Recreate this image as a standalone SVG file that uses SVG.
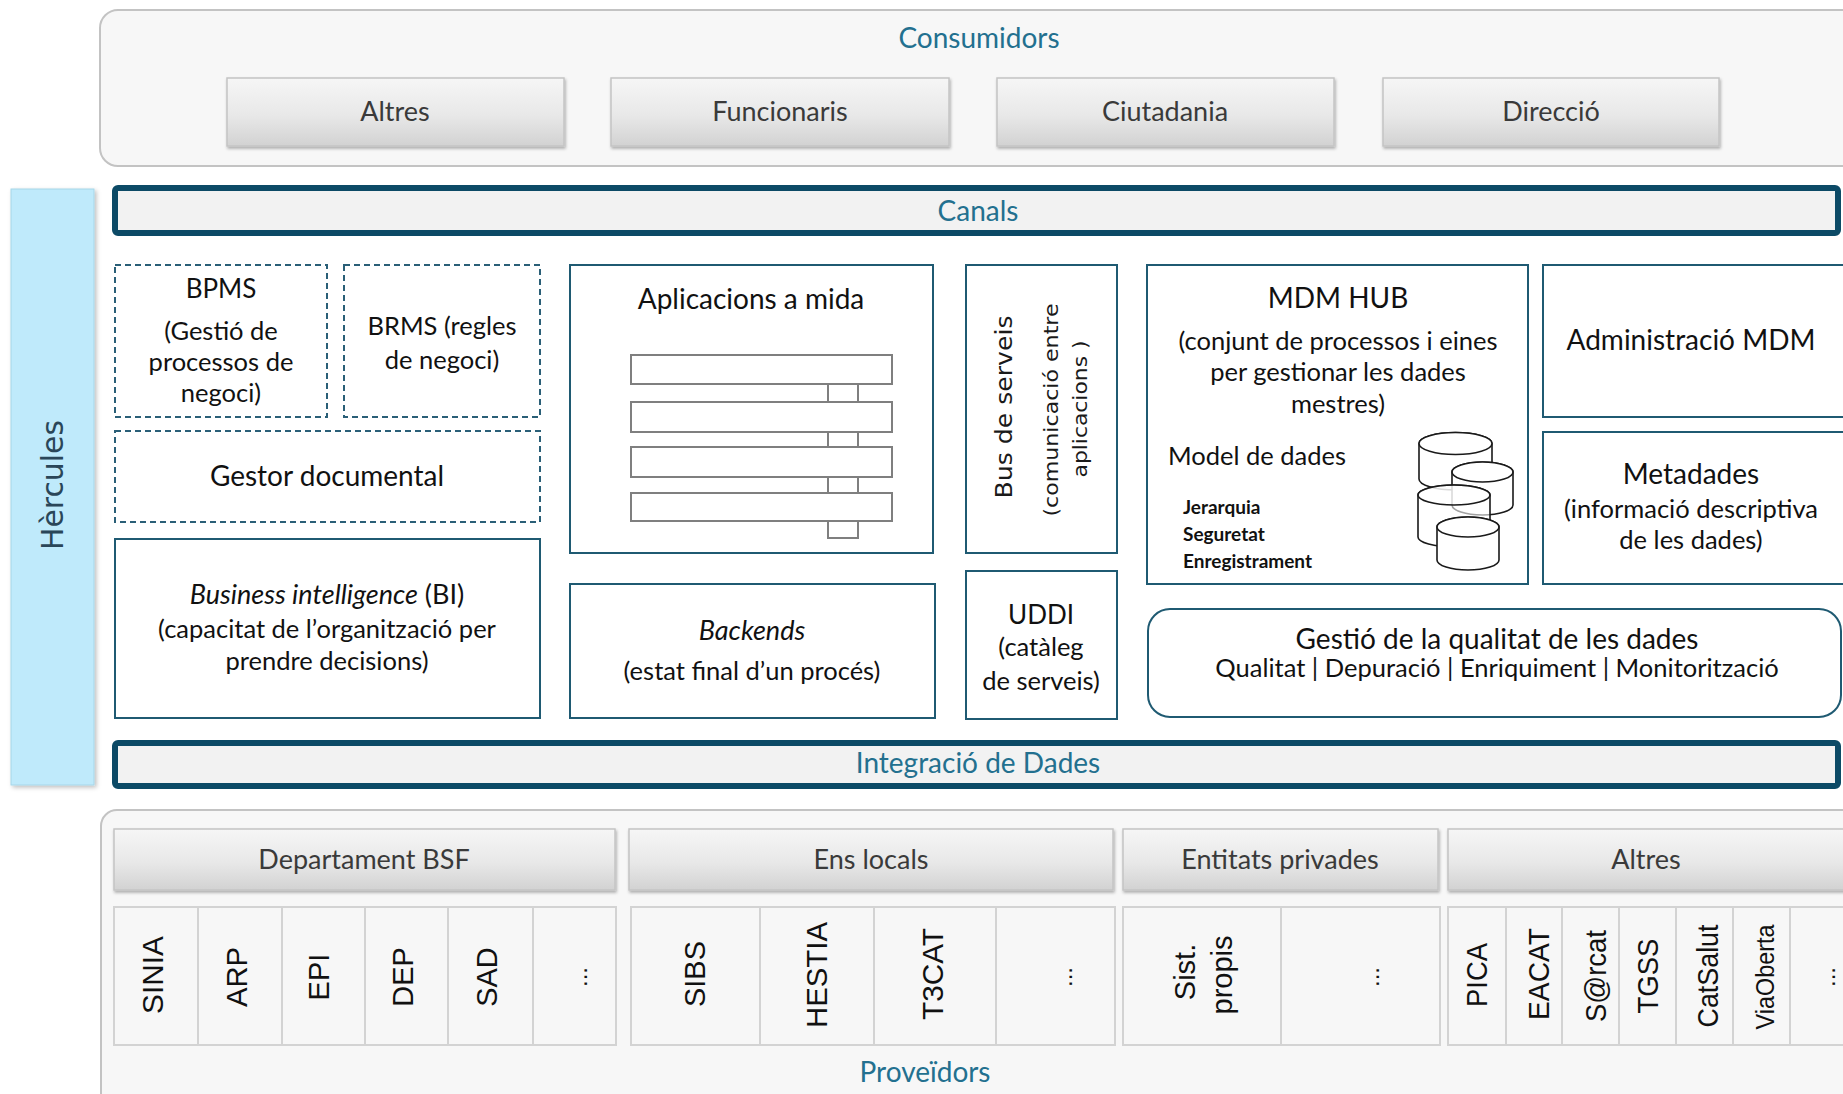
<svg xmlns="http://www.w3.org/2000/svg" width="1843" height="1094" viewBox="0 0 1843 1094">
<defs>
<linearGradient id="btn" x1="0" y1="0" x2="0" y2="1">
<stop offset="0" stop-color="#f6f6f6"/>
<stop offset="0.55" stop-color="#e8e8e8"/>
<stop offset="1" stop-color="#d2d2d2"/>
</linearGradient>
<filter id="sh" x="-5%" y="-20%" width="110%" height="150%">
<feDropShadow dx="1" dy="2" stdDeviation="1.5" flood-color="#000" flood-opacity="0.3"/>
</filter>
<filter id="sh2" x="-10%" y="-5%" width="130%" height="110%">
<feDropShadow dx="2" dy="2" stdDeviation="2" flood-color="#000" flood-opacity="0.25"/>
</filter>
</defs>
<style>
text{font-family:Lato,"Open Sans","Liberation Sans",sans-serif;fill:#111;}
.c{text-anchor:middle;}
.teal{fill:#23708f;font-size:28px;}
.hdr{fill:#3a3a3a;font-size:27px;text-anchor:middle;}
.outer{fill:#f7f7f7;stroke:#c3c3c3;stroke-width:2;}
.btn{fill:url(#btn);stroke:#c4c4c4;stroke-width:1.5;filter:url(#sh);}
.bar{fill:#f2f2f2;stroke:#0c4a66;stroke-width:6;}
.node{fill:#fff;stroke:#1f5a72;stroke-width:2;}
.dash{fill:#fff;stroke:#2a5f77;stroke-width:2;stroke-dasharray:6 4;}
.t27{font-size:28px;}
.t25{font-size:26px;}
.t24{font-size:25.5px;}
.sm{font-size:19px;font-weight:bold;}
.icon{fill:#fff;stroke:#7f7f7f;stroke-width:2;}
.cyl{fill:#fff;stroke:#1a1a1a;stroke-width:1.6;}
.cell{fill:#f7f7f7;stroke:#d3d3d3;stroke-width:2;}
.vl{font-family:"Liberation Sans",Arial,sans-serif;font-size:29px;fill:#111;text-anchor:middle;dominant-baseline:central;}
.vb{font-family:"DejaVu Sans",Verdana,sans-serif;fill:#1a1a1a;text-anchor:middle;dominant-baseline:central;}
</style>

<!-- Consumidors -->
<g id="consumidors">
<rect class="outer" x="100" y="10" width="1800" height="156" rx="18"/>
<text class="teal c" x="979" y="48">Consumidors</text>
</g>
<g id="cons-altres"><rect class="btn" x="227" y="78" width="337" height="68"/><text class="hdr" x="395" y="121">Altres</text></g>
<g id="cons-funcionaris"><rect class="btn" x="611" y="78" width="338" height="68"/><text class="hdr" x="780" y="121">Funcionaris</text></g>
<g id="cons-ciutadania"><rect class="btn" x="997" y="78" width="337" height="68"/><text class="hdr" x="1165" y="121">Ciutadania</text></g>
<g id="cons-direccio"><rect class="btn" x="1383" y="78" width="336" height="68"/><text class="hdr" x="1551" y="121">Direcció</text></g>

<!-- Hèrcules -->
<g id="hercules">
<rect x="11" y="189" width="83" height="596" fill="#bfeafb" stroke="#a6d6e8" stroke-width="1" filter="url(#sh2)"/>
<text class="vb" transform="translate(52,485) rotate(-90)" font-size="31" textLength="130" lengthAdjust="spacingAndGlyphs" style="fill:#2a4658">Hèrcules</text>
</g>

<!-- Canals -->
<g id="canals">
<rect class="bar" x="115" y="188" width="1723" height="45" rx="3"/>
<text class="teal c" x="978" y="221">Canals</text>
</g>

<!-- BPMS -->
<g id="bpms">
<rect class="dash" x="115" y="265" width="212" height="152"/>
<text class="c t25" x="221" y="298">BPMS</text>
<text class="c t24" x="221" y="340">(Gestió de</text>
<text class="c t24" x="221" y="371">processos de</text>
<text class="c t24" x="221" y="402">negoci)</text>
</g>
<g id="brms">
<rect class="dash" x="344" y="265" width="196" height="152"/>
<text class="c t24" x="442" y="335">BRMS (regles</text>
<text class="c t24" x="442" y="369">de negoci)</text>
</g>
<g id="gestor">
<rect class="dash" x="115" y="431" width="425" height="91"/>
<text class="c t27" x="327" y="486">Gestor documental</text>
</g>
<g id="bi">
<rect class="node" x="115" y="539" width="425" height="179"/>
<text class="c" x="327" y="604" font-size="27"><tspan font-style="italic">Business intelligence</tspan> (BI)</text>
<text class="c t24" x="327" y="638">(capacitat de l’organització per</text>
<text class="c t24" x="327" y="670">prendre decisions)</text>
</g>

<!-- Aplicacions a mida -->
<g id="aplicacions">
<rect class="node" x="570" y="265" width="363" height="288"/>
<text class="c t27" x="751" y="309">Aplicacions a mida</text>
<rect class="icon" x="828" y="384" width="30" height="18"/>
<rect class="icon" x="828" y="432" width="30" height="15"/>
<rect class="icon" x="828" y="477" width="30" height="16"/>
<rect class="icon" x="828" y="521" width="30" height="17"/>
<rect class="icon" x="631" y="355" width="261" height="29"/>
<rect class="icon" x="631" y="402" width="261" height="30"/>
<rect class="icon" x="631" y="447" width="261" height="30"/>
<rect class="icon" x="631" y="493" width="261" height="28"/>
</g>
<g id="backends">
<rect class="node" x="570" y="584" width="365" height="134"/>
<text class="c" x="752" y="640" font-size="27" font-style="italic">Backends</text>
<text class="c t24" x="752" y="680">(estat final d’un procés)</text>
</g>

<!-- Bus de serveis -->
<g id="bus">
<rect class="node" x="966" y="265" width="151" height="288"/>
<text class="vb" transform="translate(1004,407) rotate(-90)" font-size="23" textLength="183" lengthAdjust="spacingAndGlyphs">Bus de serveis</text>
<text class="vb" transform="translate(1051,410) rotate(-90)" font-size="20" textLength="213" lengthAdjust="spacingAndGlyphs">(comunicació entre</text>
<text class="vb" transform="translate(1080,409) rotate(-90)" font-size="20" textLength="137" lengthAdjust="spacingAndGlyphs">aplicacions )</text>
</g>
<g id="uddi">
<rect class="node" x="966" y="571" width="151" height="148"/>
<text class="c t25" x="1041" y="624">UDDI</text>
<text class="c t24" x="1041" y="656">(catàleg</text>
<text class="c t24" x="1041" y="690">de serveis)</text>
</g>

<!-- MDM HUB -->
<g id="mdmhub">
<rect class="node" x="1147" y="265" width="381" height="319"/>
<text class="c t27" x="1338" y="308">MDM HUB</text>
<text class="c t24" x="1338" y="350">(conjunt de processos i eines</text>
<text class="c t24" x="1338" y="381">per gestionar les dades</text>
<text class="c t24" x="1338" y="413">mestres)</text>
<text class="t24" x="1168" y="465">Model de dades</text>
<text class="sm" x="1183" y="514">Jerarquia</text>
<text class="sm" x="1183" y="541">Seguretat</text>
<text class="sm" x="1183" y="568">Enregistrament</text>
<path class="cyl" d="M1419,443.5 L1419,479 A36.5,11 0 0 0 1492,479 L1492,443.5 A36.5,11 0 0 0 1419,443.5 Z"/>
<ellipse class="cyl" cx="1455.5" cy="443.5" rx="36.5" ry="11"/>
<path class="cyl" d="M1452,472 L1452,505 A30.5,10 0 0 0 1513,505 L1513,472 A30.5,10 0 0 0 1452,472 Z"/>
<ellipse class="cyl" cx="1482.5" cy="472" rx="30.5" ry="10"/>
<path class="cyl" style="fill-opacity:0.6" d="M1418,495 L1418,537 A36,10 0 0 0 1490,537 L1490,495 A36,10 0 0 0 1418,495 Z"/>
<ellipse class="cyl" style="fill-opacity:0.6" cx="1454" cy="495" rx="36" ry="10"/>
<path class="cyl" d="M1437,527 L1437,560 A31,10 0 0 0 1499,560 L1499,527 A31,10 0 0 0 1437,527 Z"/>
<ellipse class="cyl" cx="1468" cy="527" rx="31" ry="10"/>
</g>
<g id="admin-mdm">
<rect class="node" x="1543" y="265" width="320" height="152"/>
<text class="c t27" x="1691" y="350">Administració MDM</text>
</g>
<g id="metadades">
<rect class="node" x="1543" y="432" width="320" height="152"/>
<text class="c t27" x="1691" y="484">Metadades</text>
<text class="c t24" x="1691" y="518">(informació descriptiva</text>
<text class="c t24" x="1691" y="549">de les dades)</text>
</g>
<g id="qualitat">
<rect class="node" x="1148" y="609" width="693" height="108" rx="22"/>
<text class="c t27" x="1497" y="649">Gestió de la qualitat de les dades</text>
<text class="c t24" x="1497" y="677">Qualitat | Depuració | Enriquiment | Monitorització</text>
</g>

<!-- Integració de Dades -->
<g id="integracio">
<rect class="bar" x="115" y="743" width="1723" height="43" rx="3"/>
<text class="teal c" x="978" y="773">Integració de Dades</text>
</g>

<!-- Proveïdors -->
<g id="proveidors">
<rect class="outer" x="101" y="810" width="1800" height="320" rx="16"/>
<text class="teal c" x="925" y="1082">Proveïdors</text>
</g>

<g id="prov-dept">
<rect class="btn" x="114" y="829" width="501" height="61"/>
<text class="hdr" x="364" y="869">Departament BSF</text>
<rect class="cell" x="114" y="907" width="84" height="138"/>
<rect class="cell" x="198" y="907" width="84" height="138"/>
<rect class="cell" x="282" y="907" width="83" height="138"/>
<rect class="cell" x="365" y="907" width="83" height="138"/>
<rect class="cell" x="448" y="907" width="85" height="138"/>
<rect class="cell" x="533" y="907" width="83" height="138"/>
<text class="vl" transform="translate(153,975) rotate(-90)" textLength="78" lengthAdjust="spacingAndGlyphs">SINIA</text>
<text class="vl" transform="translate(237,977) rotate(-90)" textLength="60" lengthAdjust="spacingAndGlyphs">ARP</text>
<text class="vl" transform="translate(319,977) rotate(-90)">EPI</text>
<text class="vl" transform="translate(403,977) rotate(-90)">DEP</text>
<text class="vl" transform="translate(487,977) rotate(-90)">SAD</text>
<text class="vl" transform="translate(578,977) rotate(-90)" style="font-size:24px">...</text>
</g>
<g id="prov-ens">
<rect class="btn" x="629" y="829" width="484" height="61"/>
<text class="hdr" x="871" y="869">Ens locals</text>
<rect class="cell" x="631" y="907" width="129" height="138"/>
<rect class="cell" x="760" y="907" width="114" height="138"/>
<rect class="cell" x="874" y="907" width="122" height="138"/>
<rect class="cell" x="996" y="907" width="119" height="138"/>
<text class="vl" transform="translate(695,974) rotate(-90)">SIBS</text>
<text class="vl" transform="translate(817,975) rotate(-90)" textLength="106" lengthAdjust="spacingAndGlyphs">HESTIA</text>
<text class="vl" transform="translate(933,974) rotate(-90)" textLength="92" lengthAdjust="spacingAndGlyphs">T3CAT</text>
<text class="vl" transform="translate(1063,977) rotate(-90)" style="font-size:24px">...</text>
</g>
<g id="prov-entitats">
<rect class="btn" x="1123" y="829" width="315" height="61"/>
<text class="hdr" x="1280" y="869">Entitats privades</text>
<rect class="cell" x="1123" y="907" width="158" height="138"/>
<rect class="cell" x="1281" y="907" width="159" height="138"/>
<text class="vl" transform="translate(1185,972) rotate(-90)">Sist.</text>
<text class="vl" transform="translate(1222,975) rotate(-90)">propis</text>
<text class="vl" transform="translate(1370,977) rotate(-90)" style="font-size:24px">...</text>
</g>
<g id="prov-altres">
<rect class="btn" x="1448" y="829" width="420" height="61"/>
<text class="hdr" x="1646" y="869">Altres</text>
<rect class="cell" x="1448" y="907" width="58" height="138"/>
<rect class="cell" x="1506" y="907" width="56" height="138"/>
<rect class="cell" x="1562" y="907" width="57" height="138"/>
<rect class="cell" x="1619" y="907" width="57" height="138"/>
<rect class="cell" x="1676" y="907" width="57" height="138"/>
<rect class="cell" x="1733" y="907" width="57" height="138"/>
<rect class="cell" x="1790" y="907" width="70" height="138"/>
<text class="vl" transform="translate(1477,975) rotate(-90)" textLength="64" lengthAdjust="spacingAndGlyphs">PICA</text>
<text class="vl" transform="translate(1539,974) rotate(-90)" textLength="92" lengthAdjust="spacingAndGlyphs">EACAT</text>
<text class="vl" transform="translate(1596,976) rotate(-90)" textLength="92" lengthAdjust="spacingAndGlyphs">S@rcat</text>
<text class="vl" transform="translate(1648,976) rotate(-90)" textLength="75" lengthAdjust="spacingAndGlyphs">TGSS</text>
<text class="vl" transform="translate(1708,976) rotate(-90)" textLength="103" lengthAdjust="spacingAndGlyphs">CatSalut</text>
<text class="vl" transform="translate(1765,977) rotate(-90)" style="font-size:26px" textLength="105" lengthAdjust="spacingAndGlyphs">ViaOberta</text>
<text class="vl" transform="translate(1826,977) rotate(-90)" style="font-size:24px">...</text>
</g>

<g id="connectors"></g>
</svg>
